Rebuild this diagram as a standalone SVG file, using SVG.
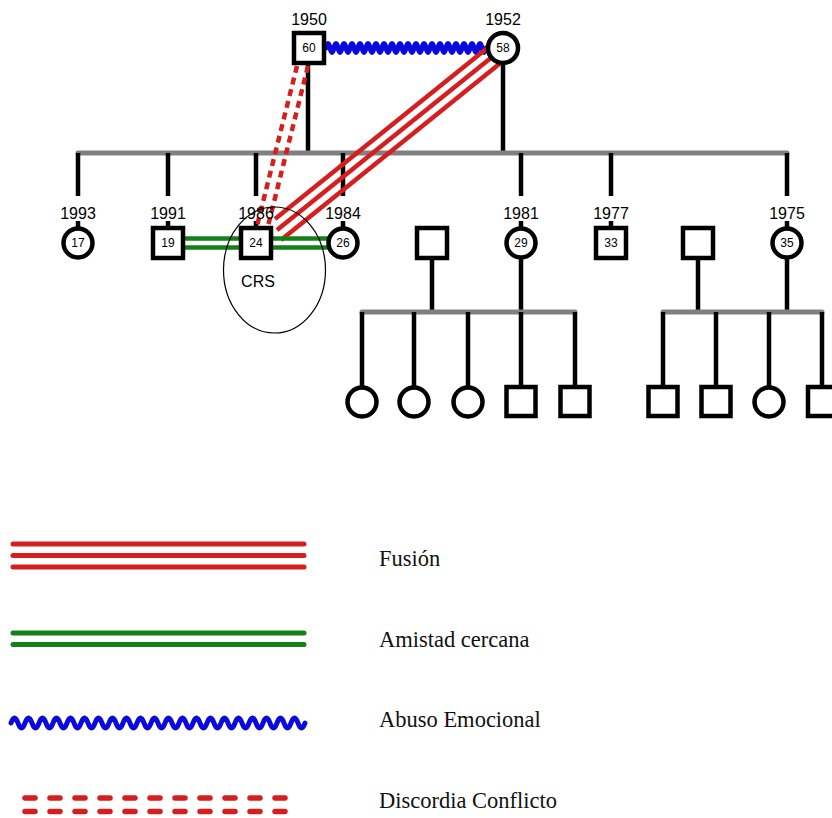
<svg xmlns="http://www.w3.org/2000/svg" width="832" height="818" viewBox="0 0 832 818">
<style>
.bar{stroke:#808080;stroke-width:5;stroke-linecap:round;fill:none}
.ln{stroke:#000;stroke-width:4.5;fill:none}
.nd{fill:#fff;stroke:#000;stroke-width:4.5}
.yr{font-family:"Liberation Sans",Arial,sans-serif;font-size:16px;fill:#000;text-anchor:middle}
.ag{font-family:"Liberation Sans",Arial,sans-serif;font-size:12px;fill:#000;text-anchor:middle}
.fus{stroke:#d61e1e;stroke-width:4.5;fill:none}
.fusL{stroke:#d61e1e;stroke-width:5;stroke-linecap:round;fill:none}
.grn{stroke:#15801a;stroke-width:4.5;fill:none}
.grnL{stroke:#15801a;stroke-width:5;stroke-linecap:round;fill:none}
.wav{stroke:#0a0adc;stroke-width:5;fill:none;stroke-linejoin:round;stroke-linecap:round}
.dsh{stroke:#d61e1e;stroke-width:4.5;stroke-dasharray:7 5;fill:none}
.dshL{stroke:#d61e1e;stroke-width:5.5;stroke-dasharray:10 15;stroke-linecap:round;fill:none}
.lg{font-family:"Liberation Serif","Times New Roman",serif;font-size:22.5px;fill:#111}
</style>
<rect width="832" height="818" fill="#fff"/>
<g id="connectors">
  <line class="ln" x1="308" y1="63" x2="308" y2="153"/>
  <line class="ln" x1="503" y1="63" x2="503" y2="153"/>
  <line class="bar" x1="78" y1="153" x2="787" y2="153"/>
  <line class="ln" x1="78" y1="153" x2="78" y2="196"/>
  <line class="ln" x1="168" y1="153" x2="168" y2="196"/>
  <line class="ln" x1="256" y1="153" x2="256" y2="196"/>
  <line class="ln" x1="343" y1="153" x2="343" y2="196"/>
  <line class="ln" x1="521" y1="153" x2="521" y2="196"/>
  <line class="ln" x1="611" y1="153" x2="611" y2="196"/>
  <line class="ln" x1="787" y1="153" x2="787" y2="196"/>
  <line class="ln" x1="78" y1="221" x2="78" y2="229"/>
  <line class="ln" x1="168" y1="221" x2="168" y2="229"/>
  <line class="ln" x1="256" y1="221" x2="256" y2="229"/>
  <line class="ln" x1="343" y1="221" x2="343" y2="229"/>
  <line class="ln" x1="521" y1="221" x2="521" y2="229"/>
  <line class="ln" x1="611" y1="221" x2="611" y2="229"/>
  <line class="ln" x1="787" y1="221" x2="787" y2="229"/>
  <line class="ln" x1="432" y1="258" x2="432" y2="312"/>
  <line class="ln" x1="521" y1="258" x2="521" y2="312"/>
  <line class="bar" x1="362" y1="312" x2="575" y2="312"/>
  <line class="ln" x1="362" y1="312" x2="362" y2="388"/>
  <line class="ln" x1="414" y1="312" x2="414" y2="388"/>
  <line class="ln" x1="468" y1="312" x2="468" y2="388"/>
  <line class="ln" x1="521" y1="312" x2="521" y2="388"/>
  <line class="ln" x1="575" y1="312" x2="575" y2="388"/>
  <line class="ln" x1="698" y1="258" x2="698" y2="312"/>
  <line class="ln" x1="787" y1="258" x2="787" y2="312"/>
  <line class="bar" x1="663" y1="312" x2="822" y2="312"/>
  <line class="ln" x1="663" y1="312" x2="663" y2="388"/>
  <line class="ln" x1="716" y1="312" x2="716" y2="388"/>
  <line class="ln" x1="769" y1="312" x2="769" y2="388"/>
  <line class="ln" x1="822" y1="312" x2="822" y2="388"/>
  <path class="wav" d="M326 48 q2 -9 4 0 t4 0 t4 0 t4 0 t4 0 t4 0 t4 0 t4 0 t4 0 t4 0 t4 0 t4 0 t4 0 t4 0 t4 0 t4 0 t4 0 t4 0 t4 0 t4 0 t4 0 t4 0 t4 0 t4 0 t4 0 t4 0 t4 0 t4 0 t4 0 t4 0 t4 0 t4 0 t4 0 t4 0 t4 0 t4 0 t4 0 t4 0 t4 0 t4 0"/>
  <line class="fus" x1="490.7" y1="45.2" x2="275" y2="219"/>
  <line class="fus" x1="497" y1="53" x2="277" y2="230"/>
  <line class="fus" x1="503.3" y1="60.8" x2="281" y2="240"/>
  <line class="dsh" x1="297" y1="66" x2="257" y2="226"/>
  <line class="dsh" x1="308" y1="66" x2="268" y2="226"/>
  <line class="grn" x1="183" y1="238.5" x2="330" y2="238.5"/>
  <line class="grn" x1="183" y1="247.5" x2="330" y2="247.5"/>
</g>
<g id="father"><text class="yr" x="309" y="25">1950</text><rect class="nd" x="294" y="33" width="30" height="30"/><text class="ag" x="309" y="52">60</text></g>
<g id="mother"><text class="yr" x="503" y="25">1952</text><circle class="nd" cx="503" cy="48" r="15"/><text class="ag" x="503" y="52">58</text></g>
<g id="child1993"><text class="yr" x="78" y="219">1993</text><circle class="nd" cx="78" cy="243" r="14.5"/><text class="ag" x="78" y="247">17</text></g>
<g id="child1991"><text class="yr" x="168" y="219">1991</text><rect class="nd" x="153" y="228" width="30" height="30"/><text class="ag" x="168" y="247">19</text></g>
<g id="child1986"><text class="yr" x="256" y="219">1986</text><rect class="nd" x="241" y="228" width="30" height="30"/><text class="ag" x="256" y="247">24</text></g>
<g id="child1984"><text class="yr" x="343" y="219">1984</text><circle class="nd" cx="343" cy="243" r="14.5"/><text class="ag" x="343" y="247">26</text></g>
<g id="spouse1"><rect class="nd" x="417" y="228" width="30" height="30"/></g>
<g id="child1981"><text class="yr" x="521" y="219">1981</text><circle class="nd" cx="521" cy="243" r="14.5"/><text class="ag" x="521" y="247">29</text></g>
<g id="child1977"><text class="yr" x="611" y="219">1977</text><rect class="nd" x="596" y="228" width="30" height="30"/><text class="ag" x="611" y="247">33</text></g>
<g id="spouse2"><rect class="nd" x="683" y="228" width="30" height="30"/></g>
<g id="child1975"><text class="yr" x="787" y="219">1975</text><circle class="nd" cx="787" cy="243" r="14.5"/><text class="ag" x="787" y="247">35</text></g>
<g id="gc1"><circle class="nd" cx="362" cy="402" r="14.5"/></g>
<g id="gc2"><circle class="nd" cx="414" cy="402" r="14.5"/></g>
<g id="gc3"><circle class="nd" cx="468" cy="402" r="14.5"/></g>
<g id="gc4"><rect class="nd" x="506.5" y="387" width="29" height="29"/></g>
<g id="gc5"><rect class="nd" x="560.5" y="387" width="29" height="29"/></g>
<g id="gc6"><rect class="nd" x="648.5" y="387" width="29" height="29"/></g>
<g id="gc7"><rect class="nd" x="701.5" y="387" width="29" height="29"/></g>
<g id="gc8"><circle class="nd" cx="769" cy="402" r="14.5"/></g>
<g id="gc9"><rect class="nd" x="808" y="387" width="29" height="29"/></g>
<g id="crs"><ellipse cx="274.5" cy="270" rx="51" ry="63" fill="none" stroke="#000" stroke-width="1.2"/><text x="258" y="287" font-family="Liberation Sans, Arial, sans-serif" font-size="16" text-anchor="middle">CRS</text></g>
<g id="legend">
  <line class="fusL" x1="13" y1="544" x2="304" y2="544"/>
  <line class="fusL" x1="13" y1="555.5" x2="304" y2="555.5"/>
  <line class="fusL" x1="13" y1="567" x2="304" y2="567"/>
  <text class="lg" x="379" y="566">Fusión</text>
  <line class="grnL" x1="13" y1="633" x2="304" y2="633"/>
  <line class="grnL" x1="13" y1="644.5" x2="304" y2="644.5"/>
  <text class="lg" x="379" y="647">Amistad cercana</text>
  <path class="wav" d="M11 723 q3.5 -10 7 0 t7 0 t7 0 t7 0 t7 0 t7 0 t7 0 t7 0 t7 0 t7 0 t7 0 t7 0 t7 0 t7 0 t7 0 t7 0 t7 0 t7 0 t7 0 t7 0 t7 0 t7 0 t7 0 t7 0 t7 0 t7 0 t7 0 t7 0 t7 0 t7 0 t7 0 t7 0 t7 0 t7 0 t7 0 t7 0 t7 0 t7 0 t7 0 t7 0 t7 0 t7 0"/>
  <text class="lg" x="379" y="727">Abuso Emocional</text>
  <line class="dshL" x1="25" y1="798" x2="290" y2="798"/>
  <line class="dshL" x1="25" y1="811.5" x2="290" y2="811.5"/>
  <text class="lg" x="379" y="808">Discordia Conflicto</text>
</g>
</svg>
